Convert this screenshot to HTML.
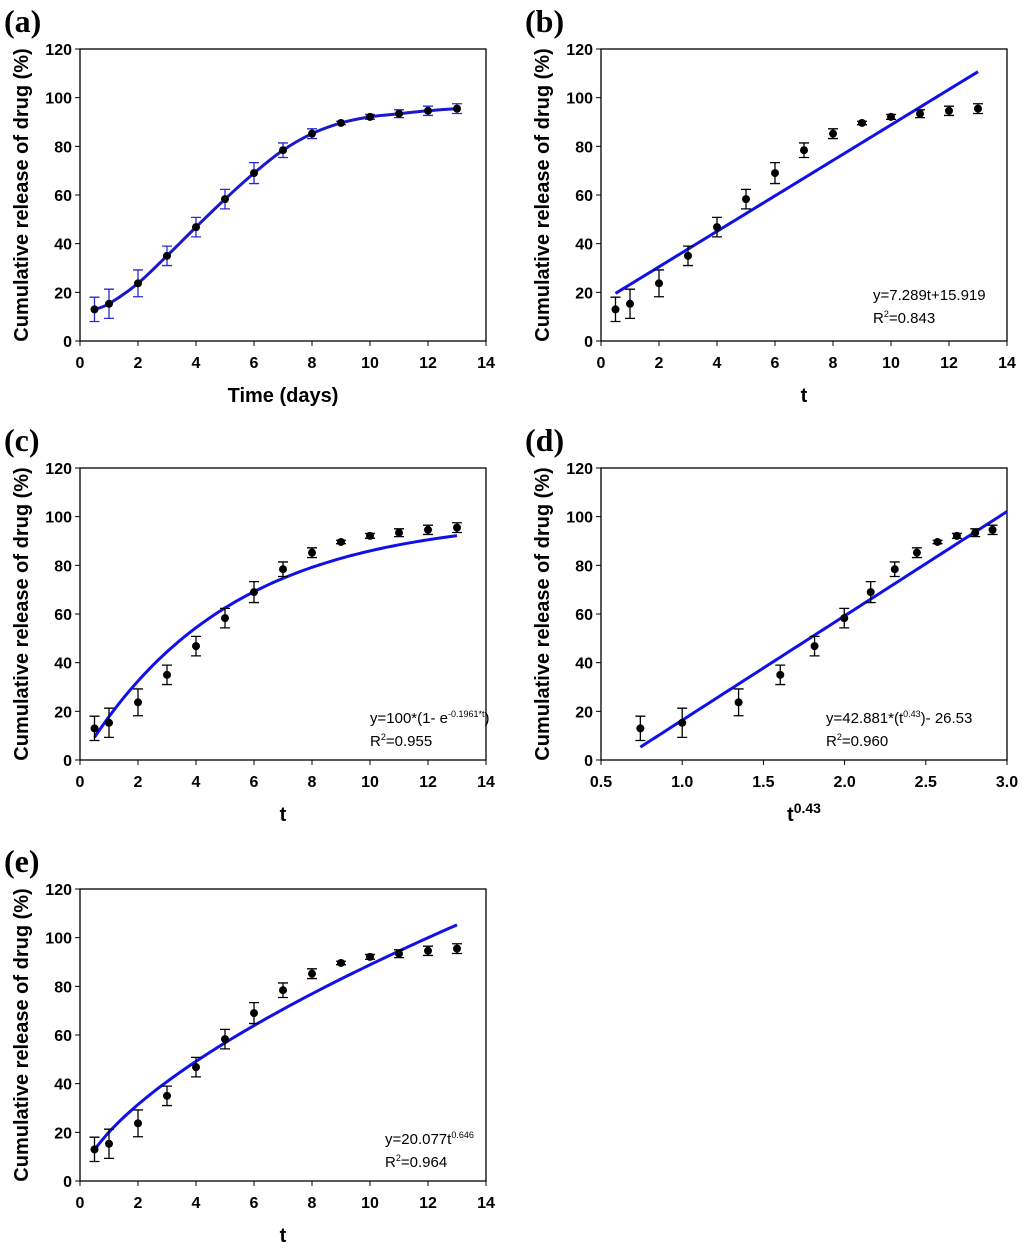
<!DOCTYPE html>
<html><head><meta charset="utf-8"><style>
body{margin:0;background:#fff;}
svg{display:block;font-family:"Liberation Sans",Arial,sans-serif;}
.tk{font-size:16px;font-weight:bold;fill:#000;}
.ttl{font-size:20px;font-weight:bold;fill:#000;}
.pl{font-family:"Liberation Serif",serif;font-size:32px;font-weight:bold;}
</style></head><body>
<svg id="fig" width="1024" height="1251" viewBox="0 0 1024 1251"></svg>
<script>
const times=[0.5,1,2,3,4,5,6,7,8,9,10,11,12,13];
const release=[13,15.3,23.7,35,46.8,58.3,69,78.4,85.2,89.6,92.1,93.4,94.6,95.5];
const errs=[5,6,5.5,4,4,4,4.3,3,2,0.7,1,1.6,1.9,2];
const yTicks=[0,20,40,60,80,100,120];
const tTicks=[0,2,4,6,8,10,12,14];
const pTicks=[0.5,1.0,1.5,2.0,2.5,3.0];
const NS='http://www.w3.org/2000/svg';
const svg=document.getElementById('fig');
function mk(tag,attrs,parent){const e=document.createElementNS(NS,tag);for(const k in attrs)e.setAttribute(k,attrs[k]);(parent||svg).appendChild(e);return e;}
const W=406,H=292;
const panels=[
 {id:'a',x:80,y:49,xt:'Time (days)',xmin:0,xmax:14,ticks:tTicks,fit:'curve',errCol:'#2a2ad0'},
 {id:'b',x:601,y:49,xt:'t',xmin:0,xmax:14,ticks:tTicks,fit:t=>7.289*t+15.919,eq:['y=7.289t+15.919','0.843'],ex:272},
 {id:'c',x:80,y:468,xt:'t',xmin:0,xmax:14,ticks:tTicks,fit:t=>100*(1-Math.exp(-0.1961*t)),eq:['y=100*(1- e<sup style="font-size:9px">-0.1961*t</sup>)','0.955'],ex:290},
 {id:'d',x:601,y:468,xt:'t0.43',xmin:0.5,xmax:3.0,ticks:pTicks,pow:true,fit:u=>42.881*u-26.53,eq:['y=42.881*(t<sup style="font-size:9px">0.43</sup>)- 26.53','0.960'],ex:225},
 {id:'e',x:80,y:889,xt:'t',xmin:0,xmax:14,ticks:tTicks,fit:t=>20.077*Math.pow(t,0.646),eq:['y=20.077t<sup style="font-size:9px">0.646</sup>','0.964'],ex:305}
];
panels.forEach(p=>{
 const g=mk('g',{});
 
 
 const sx=v=>p.x+(v-p.xmin)/(p.xmax-p.xmin)*W;
 const sy=v=>p.y+H-v/120*H;
 const lab=mk('text',{x:p.x-76,y:p.y-17,class:'pl'},g);lab.textContent='('+p.id+')';
 
 const fr=mk('rect',{x:p.x,y:p.y,width:W,height:H,fill:'none',stroke:'#000','stroke-width':1.3},g);
 
 yTicks.forEach(v=>{mk('line',{x1:p.x-5,x2:p.x,y1:sy(v),y2:sy(v),stroke:'#000'},g);
  const t=mk('text',{x:p.x-8,y:sy(v)+6,class:'tk','text-anchor':'end'},g);t.textContent=v;
  });
 p.ticks.forEach(v=>{mk('line',{x1:sx(v),x2:sx(v),y1:p.y+H,y2:p.y+H+5,stroke:'#000'},g);
  const t=mk('text',{x:sx(v),y:p.y+H+27,class:'tk','text-anchor':'middle'},g);t.textContent=p.pow?v.toFixed(1):v;
  });
 const yt=mk('text',{x:0,y:0,class:'ttl','text-anchor':'middle',transform:`translate(${p.x-52},${p.y+H/2}) rotate(-90)`},g);
 yt.textContent='Cumulative release of drug (%)';
 
 const xt=mk('text',{x:p.x+H/2+57,y:p.y+H+61,class:'ttl','text-anchor':'middle'},g);
 if(p.pow){xt.innerHTML='t<tspan font-size="14" dy="-8">0.43</tspan>';}else xt.textContent=p.xt;
 
 const n=p.pow?times.length-1:times.length;
 const xs=times.slice(0,n).map(t=>p.pow?Math.pow(t,0.43):t);
 let d='';
 if(p.fit==='curve'){
  const pts=xs.map((x,i)=>[sx(x),sy(release[i])]);
  d='M'+pts[0].join(',');
  for(let i=0;i<pts.length-1;i++){const p0=pts[Math.max(0,i-1)],p1=pts[i],p2=pts[i+1],p3=pts[Math.min(pts.length-1,i+2)];
   d+=` C${p1[0]+(p2[0]-p0[0])/6},${p1[1]+(p2[1]-p0[1])/6} ${p2[0]-(p3[0]-p1[0])/6},${p2[1]-(p3[1]-p1[1])/6} ${p2[0]},${p2[1]}`;}
 } else {
  const a=xs[0],b=p.pow?3.0:13;
  for(let i=0;i<=100;i++){const u=a+(b-a)*i/100;d+=(i?'L':'M')+sx(u).toFixed(2)+','+sy(p.fit(u)).toFixed(2);}
 }
 const fl=mk('path',{d:d,fill:'none',stroke:p.fit==='curve'?'#1a1acc':'#1010e8','stroke-width':3},g);
 
 const ec=p.errCol||'#000';
 xs.forEach((x,i)=>{
  const cx=sx(x),lo=sy(release[i]-errs[i]),hi=sy(release[i]+errs[i]);
  const eb=mk('path',{d:`M${cx},${lo}V${hi}M${cx-5},${lo}h10M${cx-5},${hi}h10`,stroke:ec,'stroke-width':1.3,fill:'none'},g);
  
  const c=mk('circle',{cx:cx,cy:sy(release[i]),r:4,fill:'#000'},g);
  
 });
 if(p.eq){
  const fo=mk('foreignObject',{x:p.x+p.ex,y:p.y+H-55,width:200,height:50},g);
  
  fo.innerHTML=`<div xmlns="http://www.w3.org/1999/xhtml" style="font-family:'Liberation Sans',Arial,sans-serif;font-size:15px;line-height:19px;text-align:left;">${p.eq[0]}<br/>R<sup style="font-size:9px">2</sup>=${p.eq[1]}</div>`;
 }
});
</script>
</body></html>
